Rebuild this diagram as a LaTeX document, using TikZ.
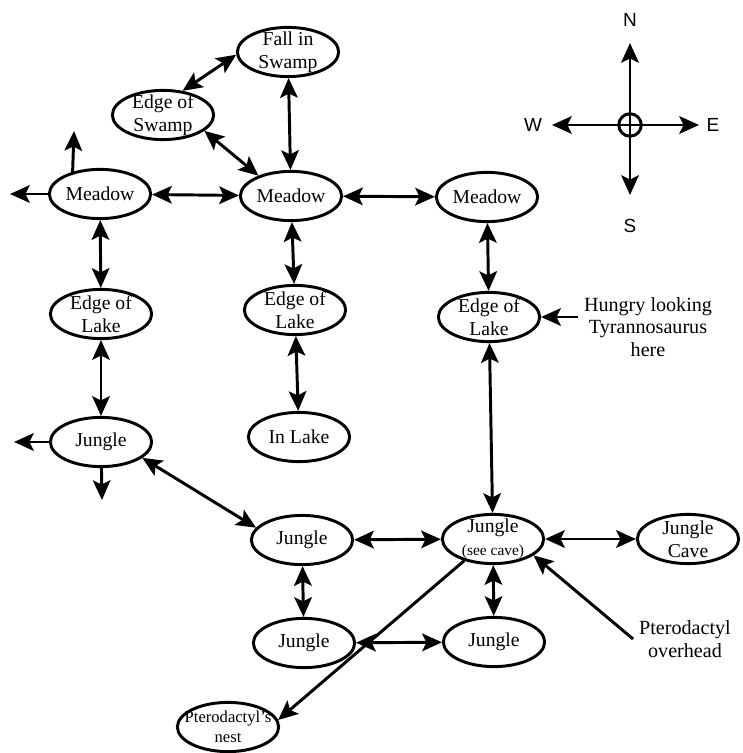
\documentclass[tikz,border=0pt]{standalone}
\usepackage{fontspec}
\setmainfont{Liberation Serif}
\setsansfont{Liberation Sans}
\usetikzlibrary{arrows.meta}
\usetikzlibrary{shapes.geometric}

\begin{document}
\begin{tikzpicture}[x=0.025cm,y=-0.025cm,>={Stealth[length=14pt,width=12.5pt,inset=3pt]},
      line width=2.1pt,
      place node/.style={draw,ellipse,minimum width=72pt,minimum height=35pt,
        inner xsep=0pt,inner ysep=-5pt,align=center,font=\fontsize{14}{16.3}\selectfont},
      note node/.style={align=center,font=\fontsize{14.3}{16}\selectfont},
      compass label/.style={font=\sffamily\fontsize{13.5}{15}\selectfont,inner sep=1pt}]
    \useasboundingbox (0,0) rectangle (742,753);
    % swamp and meadows
    \node[place node] (FS) at (288,52) {Fall in\\Swamp};
    \node[place node] (ES) at (163,115) {Edge of\\Swamp};
    \node[place node] (M1) at (100,194) {Meadow};
    \node[place node] (M2) at (291,196) {Meadow};
    \node[place node] (M3) at (487,197) {Meadow};
    % lake
    \node[place node] (L1) at (101,314) {Edge of\\Lake};
    \node[place node] (L2) at (295,310) {Edge of\\Lake};
    \node[place node] (L3) at (489,317) {Edge of\\Lake};
    \node[place node] (IL) at (299,437) {In Lake};
    % jungle
    \node[place node] (J1) at (101,442) {Jungle};
    \node[place node] (J2) at (302,540) {Jungle};
    \node[place node] (J3) at (304,643) {Jungle};
    \node[place node] (J4) at (493,539) {Jungle\\{\fontsize{11}{12}\selectfont(see cave)}};
    \node[place node] (J5) at (494,642) {Jungle};
    \node[place node] (JC) at (688,539) {Jungle\\Cave};
    \node[place node,inner xsep=-10pt,font=\fontsize{11.8}{14}\selectfont] (NE) at (228,727) {Pterodactyl's\\nest};
    % notes
    \node[note node] (TR) at (648,327) {Hungry looking\\Tyrannosaurus\\here};
    \node[note node] (PO) at (685,639) {Pterodactyl\\overhead};
    % free ends
    \coordinate (M1up) at (74,131);
    \coordinate (M1left) at (10,194);
    \coordinate (J1left) at (14,442);
    \coordinate (J1down) at (102,500);
    % compass
    \node[draw,circle,minimum size=16pt,inner sep=0pt] (C) at (630,125) {};
    \coordinate (Ntip) at (630,43);
    \coordinate (Stip) at (630,195);
    \coordinate (Wtip) at (552,125);
    \coordinate (Etip) at (699,125);
    \node[compass label] (N) at (630,20) {N};
    \node[compass label] (S) at (630,226) {S};
    \node[compass label] (W) at (533,125) {W};
    \node[compass label] (E) at (713,125) {E};
    \path (C.center) edge [->] (Ntip)
                     edge [->] (Stip)
                     edge [->] (Wtip)
                     edge [->] (Etip);
    \path
      (FS.183) edge [<->] (ES.51)
      (FS) edge [<->] (M2)
      (ES.-21) edge [<->] (M2.148)
      (M1) edge [<->] (M2)
      (M2) edge [<->] (M3)
      (M1.141) edge [->] (M1up)
      (M1) edge [->] (M1left)
      (M1) edge [<->] (L1)
      (M2) edge [<->] (L2)
      (M3) edge [<->] (L3)
      (L1) edge [<->] (J1)
      (L2) edge [<->] (IL)
      (J1) edge [->] (J1left)
      (J1) edge [->] (J1down)
      (J1.-21) edge [<->] (J2.165)
      (J2) edge [<->] (J4)
      (L3) edge [<->] (J4)
      (J4) edge [<->] (JC)
      (J2) edge [<->] (J3)
      (J4) edge [<->] (J5)
      (J3) edge [<->] (J5)
      (J4.-143) edge [->] (NE.8)
      (TR.west |- L3) edge [->] (L3)
      (PO.west) edge [->] (J4.-22);
\end{tikzpicture}
\end{document}
